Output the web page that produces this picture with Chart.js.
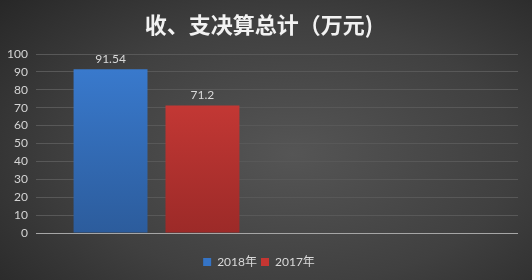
<!DOCTYPE html>
<html>
<head>
<meta charset="utf-8">
<script src="https://cdn.jsdelivr.net/npm/chart.js@4/dist/chart.umd.min.js"></script>
<style>
  html, body { margin: 0; padding: 0; }
  #wrap {
    width: 532px; height: 280px; position: relative;
    background: radial-gradient(ellipse 75% 85% at 55% 55%, #555555 0%, #404040 55%, #262626 100%);
  }
</style>
</head>
<body>
<div id="wrap"><canvas id="chart" width="532" height="280"></canvas></div>
<script>
const categories = ["", ""];
const seriesNames = ["2018年", "2017年"];
const values2018 = [91.54, null];
const values2017 = [71.2, null];
const yTicks = [0, 10, 20, 30, 40, 50, 60, 70, 80, 90, 100];

const latin = "Lato, 'Noto Sans CJK SC', sans-serif";

function barGradient(top, bottom) {
  return (context) => {
    const { ctx, chartArea } = context.chart;
    if (!chartArea) return top;
    const g = ctx.createLinearGradient(0, chartArea.top, 0, chartArea.bottom);
    g.addColorStop(0, top);
    g.addColorStop(1, bottom);
    return g;
  };
}

// simple value labels above bars
const valueLabels = {
  id: "valueLabels",
  afterDatasetsDraw(chart) {
    const { ctx } = chart;
    ctx.save();
    ctx.fillStyle = "#d9d9d9";
    ctx.font = "12px " + latin;
    ctx.textAlign = "center";
    ctx.textBaseline = "bottom";
    chart.data.datasets.forEach((ds, i) => {
      chart.getDatasetMeta(i).data.forEach((bar, j) => {
        if (ds.data[j] == null) return;
        ctx.fillText(String(ds.data[j]), bar.x, bar.y - 4);
      });
    });
    ctx.restore();
  },
};

new Chart(document.getElementById("chart"), {
  type: "bar",
  data: {
    labels: categories,
    datasets: [
      { label: seriesNames[0], data: values2018, backgroundColor: barGradient("#3a7cd1", "#2c5c9c") },
      { label: seriesNames[1], data: values2017, backgroundColor: barGradient("#d23d39", "#9c2a28") },
    ],
  },
  options: {
    responsive: false,
    animation: false,
    layout: { padding: { left: 0, right: 14, top: 0, bottom: 2 } },
    categoryPercentage: 0.763,
    barPercentage: 0.804,
    plugins: {
      title: {
        display: true,
        text: "收、支决算总计（万元)",
        color: "#f2f2f2",
        font: { family: "'Noto Sans CJK SC', sans-serif", size: 22, weight: "bold", lineHeight: 1.2 },
        padding: { top: 11, bottom: 16.6 },
      },
      legend: {
        position: "bottom",
        labels: {
          color: "#d9d9d9",
          font: { family: latin, size: 12 },
          boxWidth: 8,
          boxHeight: 8,
          padding: 4,
          generateLabels: (chart) => seriesNames.map((name, i) => ({
            text: name,
            fillStyle: ["#3574c6", "#c53632"][i],
            strokeStyle: "transparent",
            lineWidth: 0,
            fontColor: "#d9d9d9",
            datasetIndex: i,
          })),
        },
      },
      tooltip: { enabled: false },
    },
    scales: {
      x: {
        grid: { display: false },
        border: { display: false },
        ticks: { display: false },
        afterFit: (scale) => { scale.height = 19; },
      },
      y: {
        min: 0,
        max: 100,
        afterBuildTicks: (scale) => { scale.ticks = yTicks.map((v) => ({ value: v })); },
        afterFit: (scale) => { scale.width = 36; },
        ticks: { color: "#d4d4d4", font: { family: latin, size: 12 }, padding: 8 },
        grid: {
          drawTicks: false,
          color: (c) => (c.tick && c.tick.value === 0 ? "#a6a6a6" : "#585858"),
          lineWidth: 1,
        },
        border: { display: false },
      },
    },
  },
  plugins: [valueLabels],
});
</script>
</body>
</html>
